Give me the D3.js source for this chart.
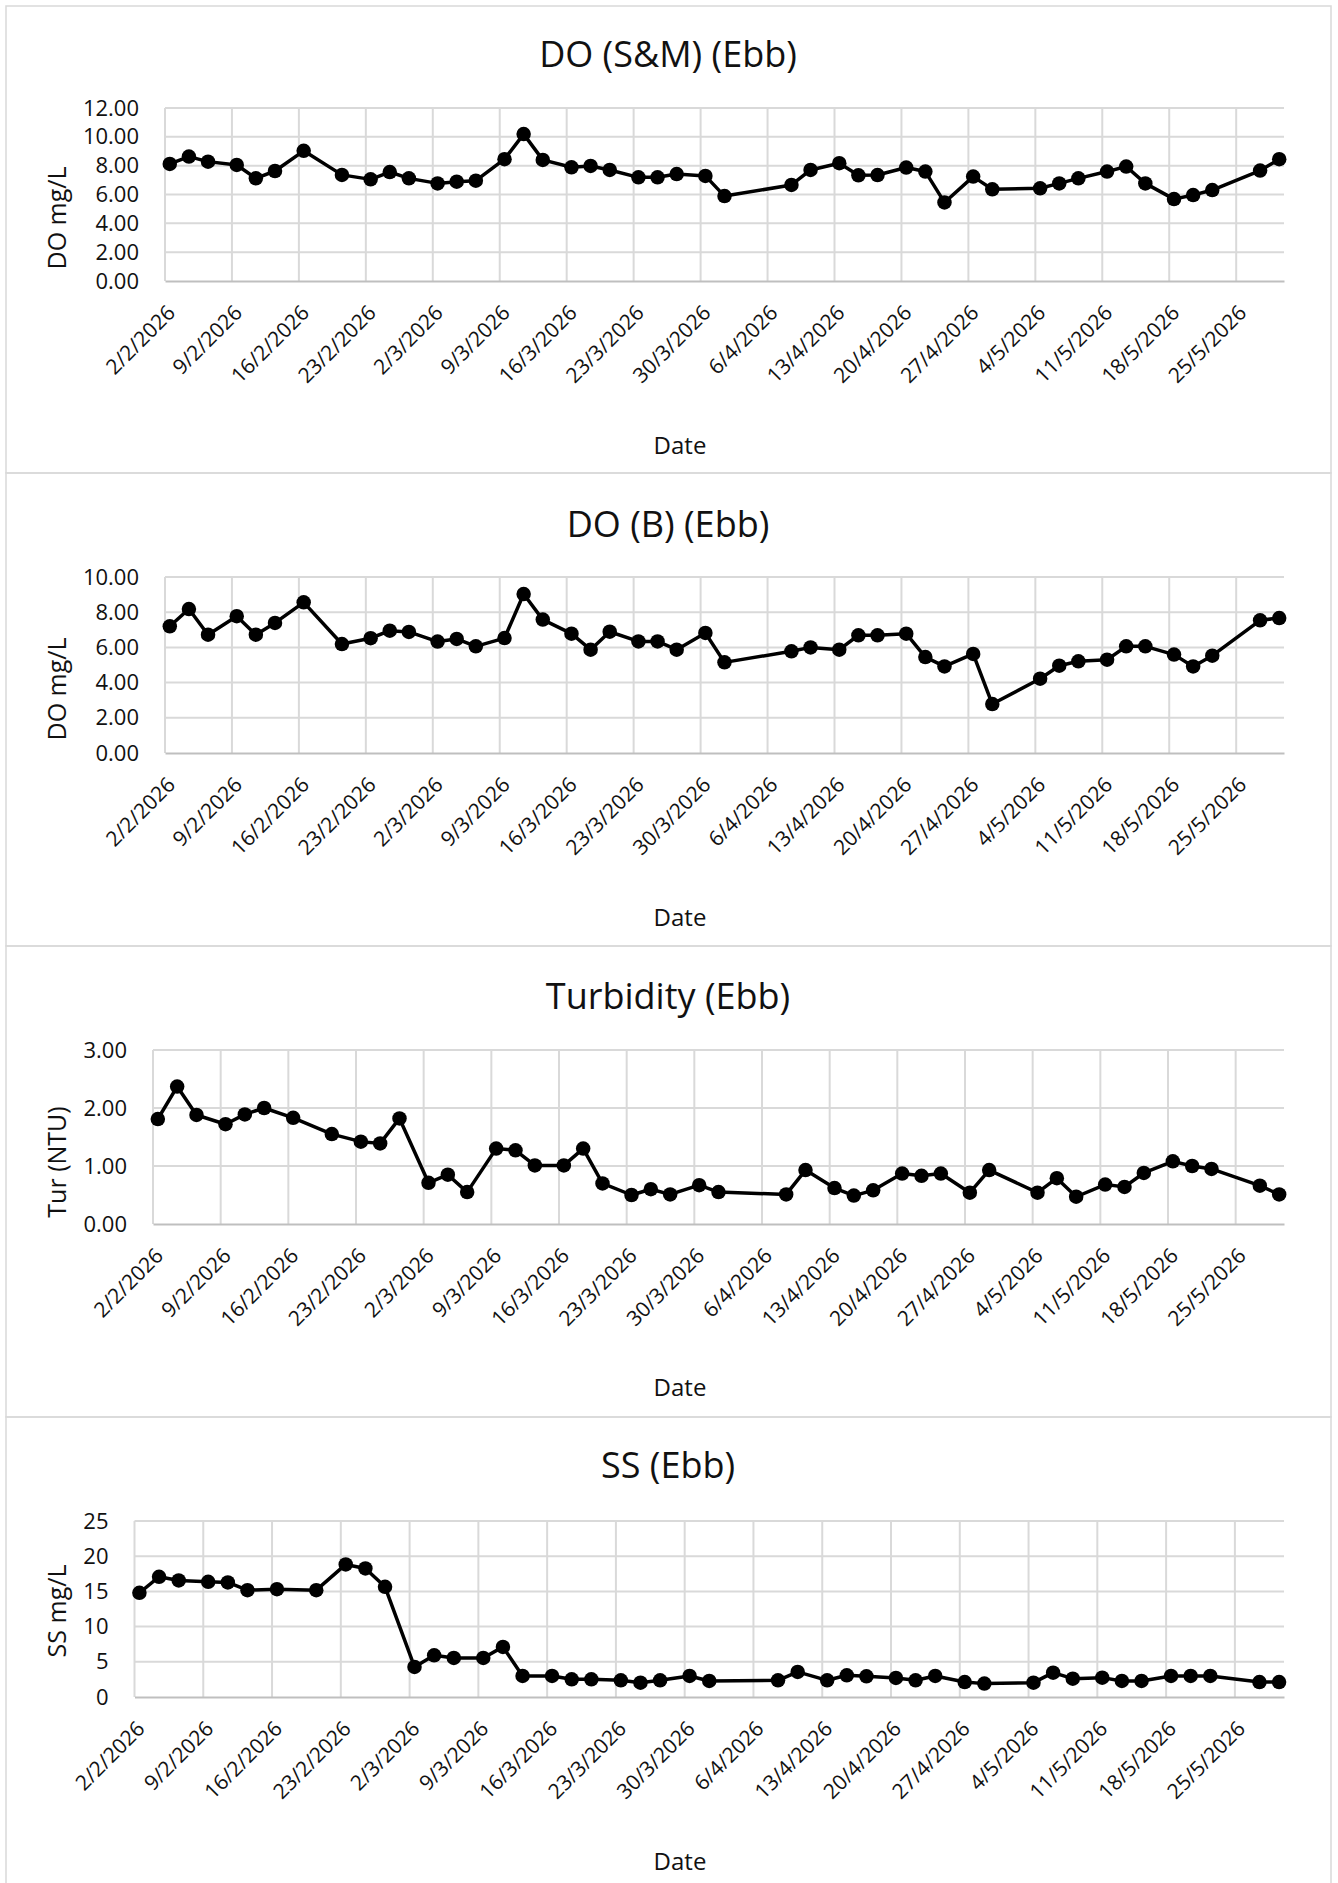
<!DOCTYPE html>
<html>
<head>
<meta charset="utf-8">
<script src="https://cdn.jsdelivr.net/npm/d3@7"></script>
<style>
  body { margin: 0; background: #fff; }
  text { font-family: "Open Sans", sans-serif; fill: #111; }
</style>
</head>
<body>
<div id="chart"></div>
<script>
// sampling dates (d/m/yyyy)
var sampleDates = ["2/2/2026", "4/2/2026", "6/2/2026", "9/2/2026", "11/2/2026", "13/2/2026", "16/2/2026",
    "20/2/2026", "23/2/2026", "25/2/2026", "27/2/2026", "2/3/2026", "4/3/2026", "6/3/2026", "9/3/2026",
    "11/3/2026", "13/3/2026", "16/3/2026", "18/3/2026", "20/3/2026", "23/3/2026", "25/3/2026", "27/3/2026",
    "30/3/2026", "1/4/2026", "8/4/2026", "10/4/2026", "13/4/2026", "15/4/2026", "17/4/2026", "20/4/2026",
    "22/4/2026", "24/4/2026", "27/4/2026", "29/4/2026", "4/5/2026", "6/5/2026", "8/5/2026", "11/5/2026",
    "13/5/2026", "15/5/2026", "18/5/2026", "20/5/2026", "22/5/2026", "27/5/2026", "29/5/2026"];

var doSM = [8.12, 8.63, 8.28, 8.05, 7.12, 7.63, 9.03, 7.36, 7.05, 7.56, 7.12, 6.77, 6.89, 6.96, 8.45,
    10.19, 8.40, 7.89, 7.98, 7.70, 7.19, 7.19, 7.42, 7.29, 5.89, 6.66, 7.70, 8.17, 7.33, 7.35, 7.87,
    7.59, 5.45, 7.24, 6.36, 6.43, 6.77, 7.12, 7.59, 7.94, 6.77, 5.68, 5.96, 6.31, 7.66, 8.45];

var doB = [7.20, 8.18, 6.72, 7.77, 6.72, 7.39, 8.56, 6.19, 6.52, 6.95, 6.88, 6.33, 6.48, 6.06, 6.53,
    9.03, 7.58, 6.78, 5.87, 6.89, 6.34, 6.34, 5.87, 6.82, 5.15, 5.78, 6.00, 5.87, 6.69, 6.69, 6.78,
    5.45, 4.92, 5.63, 2.78, 4.22, 4.96, 5.21, 5.30, 6.06, 6.06, 5.59, 4.92, 5.53, 7.54, 7.67];

var turbidity = [1.81, 2.37, 1.88, 1.72, 1.89, 2.00, 1.83, 1.55, 1.42, 1.39, 1.82, 0.71, 0.85, 0.55, 1.30,
    1.27, 1.01, 1.01, 1.30, 0.70, 0.50, 0.60, 0.51, 0.67, 0.55, 0.51, 0.93, 0.62, 0.49, 0.58, 0.87,
    0.83, 0.87, 0.54, 0.93, 0.54, 0.79, 0.47, 0.68, 0.64, 0.88, 1.08, 1.00, 0.95, 0.66, 0.51];

var ss = [14.80, 17.08, 16.56, 16.37, 16.27, 15.18, 15.32, 15.18, 18.83, 18.26, 15.65, 4.27, 5.93, 5.55, 5.55,
    7.12, 2.99, 2.99, 2.51, 2.51, 2.37, 2.04, 2.37, 2.99, 2.28, 2.37, 3.56, 2.37, 3.08, 2.94, 2.70,
    2.37, 2.99, 2.13, 1.90, 2.04, 3.46, 2.61, 2.75, 2.28, 2.28, 2.99, 2.99, 2.99, 2.13, 2.13];

var titles = ["DO (S&M) (Ebb)", "DO (B) (Ebb)", "Turbidity (Ebb)", "SS (Ebb)"];
var yTitles = ["DO mg/L", "DO mg/L", "Tur (NTU)", "SS mg/L"];
var yDomains = [[0, 12], [0, 10], [0, 3], [0, 25]];
var yTickSteps = [2, 2, 1, 5];
var yTickFormats = [".2f", ".2f", ".2f", "d"];
var axisStart = "2/2/2026", axisEnd = "30/5/2026";

var W = 1338, H = 1883;

// layout of each panel (absolute px)
var layout = [
    {boxTop: 6,    boxBottom: 473,  left: 165,   top: 108,  bottom: 281,  titleY: 54,   dateY: 446,  yTitleY: 218},
    {boxTop: 473,  boxBottom: 946,  left: 165,   top: 577,  bottom: 753,  titleY: 524,  dateY: 918,  yTitleY: 689},
    {boxTop: 946,  boxBottom: 1417, left: 153,   top: 1050, bottom: 1224, titleY: 996,  dateY: 1388, yTitleY: 1162},
    {boxTop: 1417, boxBottom: 1890, left: 134.5, top: 1521, bottom: 1697, titleY: 1465, dateY: 1862, yTitleY: 1611}
];
var plotRight = 1284;

var series = [doSM, doB, turbidity, ss];

var parseDate = d3.utcParse("%d/%m/%Y");
var dates = sampleDates.map(parseDate);
var fmtTick = d3.utcFormat("%-d/%-m/%Y");

var svg = d3.select("#chart").append("svg")
    .attr("width", W).attr("height", H);

series.forEach(function(values, i) {
    var L = layout[i];
    var g = svg.append("g").attr("class", "panel");

    // chart border
    g.append("rect")
        .attr("x", 6).attr("y", L.boxTop)
        .attr("width", 1325).attr("height", L.boxBottom - L.boxTop)
        .attr("fill", "none").attr("stroke", "#d9d9d9").attr("stroke-width", 1.5);

    var x = d3.scaleUtc()
        .domain([parseDate(axisStart), parseDate(axisEnd)])
        .range([L.left, plotRight]);
    var y = d3.scaleLinear()
        .domain(yDomains[i])
        .range([L.bottom, L.top]);

    var yTicks = d3.range(yDomains[i][0], yDomains[i][1] + 1e-9, yTickSteps[i]);
    var xTicks = d3.utcMonday.range(parseDate(axisStart), d3.utcDay.offset(parseDate(axisEnd), 1));

    // gridlines
    g.append("g").selectAll("line")
        .data(yTicks.filter(function(d) { return d > 0; }))
        .enter().append("line")
        .attr("x1", L.left).attr("x2", plotRight)
        .attr("y1", function(d) { return y(d); }).attr("y2", function(d) { return y(d); })
        .attr("stroke", "#d9d9d9").attr("stroke-width", 2);
    g.append("g").selectAll("line")
        .data(xTicks)
        .enter().append("line")
        .attr("x1", function(d) { return x(d); }).attr("x2", function(d) { return x(d); })
        .attr("y1", L.top).attr("y2", L.bottom)
        .attr("stroke", "#d9d9d9").attr("stroke-width", 2);

    // axes
    var yAxis = g.append("g")
        .attr("transform", "translate(" + L.left + ",0)")
        .call(d3.axisLeft(y).tickValues(yTicks).tickFormat(d3.format(yTickFormats[i]))
            .tickSize(0).tickPadding(26));
    yAxis.select(".domain").remove();
    yAxis.selectAll("text").attr("font-size", "22px").attr("font-family", "Open Sans").attr("fill", "#111");

    var xAxis = g.append("g")
        .attr("transform", "translate(0," + L.bottom + ")")
        .call(d3.axisBottom(x).tickValues(xTicks).tickFormat(fmtTick).tickSize(0));
    xAxis.select(".domain").attr("stroke", "#bfbfbf").attr("stroke-width", 2);
    xAxis.selectAll("text")
        .attr("font-size", "21px").attr("font-family", "Open Sans").attr("fill", "#111")
        .attr("text-anchor", "end")
        .attr("y", 0).attr("dy", 0)
        .attr("transform", "translate(11,33) rotate(-45)");

    // titles
    g.append("text")
        .attr("x", 668).attr("y", L.titleY).attr("dy", "0.35em")
        .attr("text-anchor", "middle").attr("font-size", "36px")
        .text(titles[i]);
    g.append("text")
        .attr("x", 680).attr("y", L.dateY).attr("dy", "0.35em")
        .attr("text-anchor", "middle").attr("font-size", "24px")
        .text("Date");
    g.append("text")
        .attr("transform", "translate(57," + L.yTitleY + ") rotate(-90)")
        .attr("dy", "0.35em")
        .attr("text-anchor", "middle").attr("font-size", "25px")
        .text(yTitles[i]);

    // line + markers
    var pts = dates.map(function(d, k) { return {date: d3.utcHour.offset(d, 12), v: values[k]}; });
    var line = d3.line()
        .x(function(d) { return x(d.date); })
        .y(function(d) { return y(d.v); });
    g.append("path")
        .datum(pts)
        .attr("d", line)
        .attr("fill", "none").attr("stroke", "#000").attr("stroke-width", 3.5)
        .attr("stroke-linejoin", "round");
    g.append("g").selectAll("circle")
        .data(pts)
        .enter().append("circle")
        .attr("cx", function(d) { return x(d.date); })
        .attr("cy", function(d) { return y(d.v); })
        .attr("r", 7.25)
        .attr("fill", "#000");
});
</script>
</body>
</html>
